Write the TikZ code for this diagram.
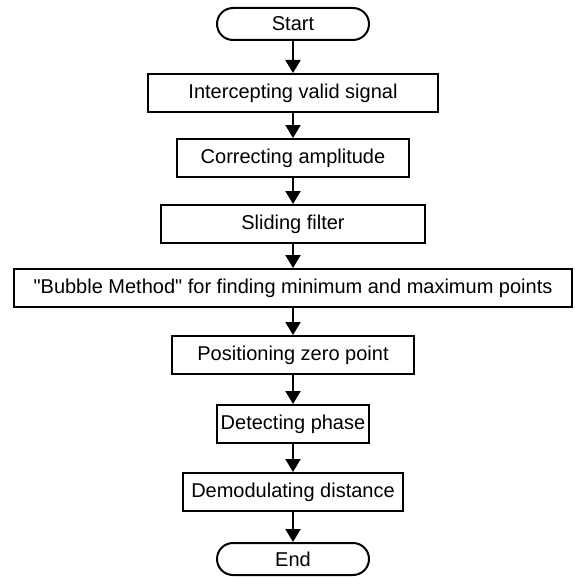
\documentclass[tikz,border=0pt]{standalone}
\usepackage{fontspec}
\setmainfont{Liberation Sans}[Ligatures=TeXOff]
\usepackage{tikz}
\usetikzlibrary{arrows.meta}

\begin{document}
\begin{tikzpicture}[
    x=1pt, y=-1pt,
    % boxes of the flow
    stepbox/.style={draw, line width=2pt, minimum height=38pt, inner sep=0pt,
        font=\fontsize{20}{22}\selectfont},
    termbox/.style={stepbox, minimum height=32pt, rounded corners=16pt},
    flow/.style={line width=2pt, -{Triangle[length=13pt,width=15pt]}}
]
    \useasboundingbox (0,0) rectangle (574,578);

    % Nodes
    \node[termbox, minimum width=152pt] (start) at (293,24) {Start};
    \node[stepbox, minimum width=290pt] (intercept) at (293,93) {Intercepting valid signal};
    \node[stepbox, minimum width=232pt] (amplitude) at (293,158) {Correcting amplitude};
    \node[stepbox, minimum width=264pt] (filter) at (293,224) {Sliding filter};
    \node[stepbox, minimum width=558pt] (bubble) at (293,288) {"Bubble Method" for finding minimum and maximum points};
    \node[stepbox, minimum width=242pt] (zero) at (293,355) {Positioning zero point};
    \node[stepbox, minimum width=152pt] (phase) at (293,424) {Detecting phase};
    \node[stepbox, minimum width=220pt] (distance) at (293,492) {Demodulating distance};
    \node[termbox, minimum width=152pt] (end) at (293,559) {End};

    % Connectors
    \foreach \a/\b in {start/intercept, intercept/amplitude, amplitude/filter,
        filter/bubble, bubble/zero, zero/phase, phase/distance, distance/end} {
        \draw[flow] (\a) -- (\b);
    }
\end{tikzpicture}
\end{document}
